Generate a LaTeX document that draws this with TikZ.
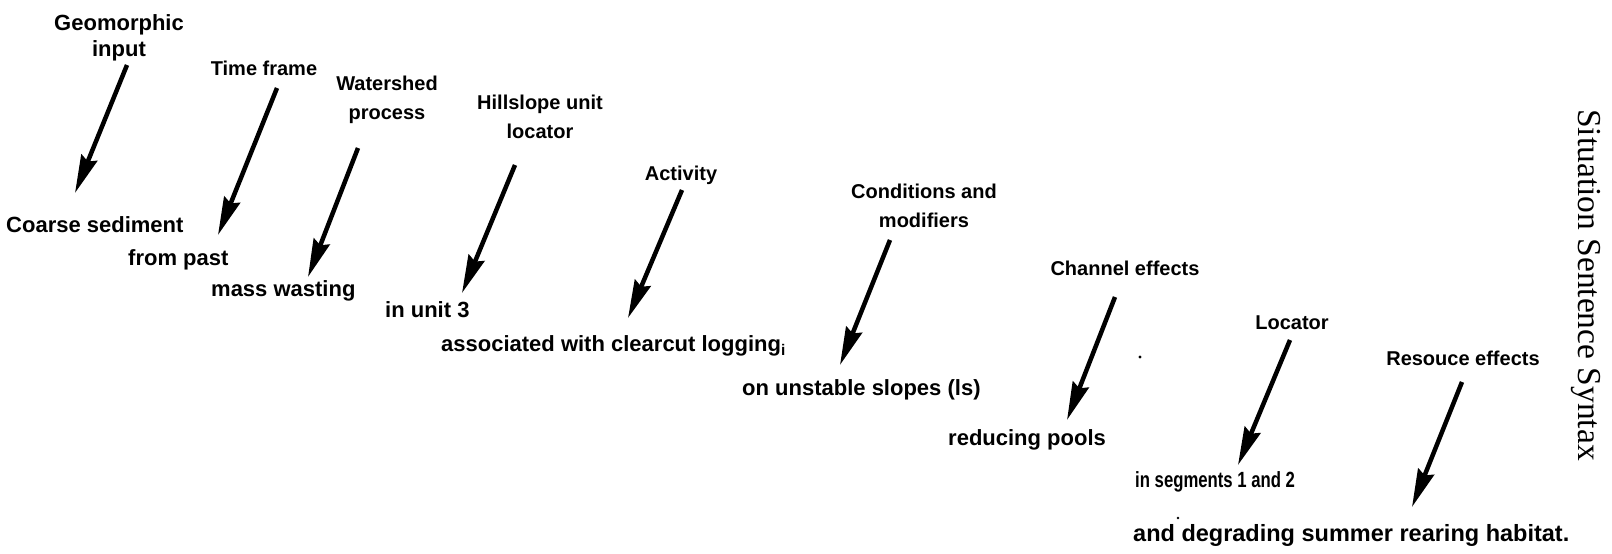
\documentclass[tikz,border=0pt]{standalone}
\usepackage{fontspec}
\setmainfont{Liberation Sans}
\newfontfamily\titlefont{Liberation Serif}
\usetikzlibrary{arrows.meta}
\begin{document}
\begin{tikzpicture}[x=1pt,y=-1pt,
  lab/.style={font=\fontsize{20}{29}\selectfont\bfseries, align=center, inner sep=0pt},
  phr/.style={font=\fontsize{22}{26}\selectfont\bfseries, anchor=west, inner sep=0pt},
  arr/.style={line width=4.5pt, -{Stealth[length=38pt,width=17pt,inset=4pt]}},
  speck/.style={fill=black, draw=none}]
\useasboundingbox (0,0) rectangle (1612,554);
% top labels
\node[lab, font=\fontsize{22}{26}\selectfont\bfseries] (geo) at (119,38) {Geomorphic\\input};
\node[lab] (time) at (264,68) {Time frame};
\node[lab] (water) at (387,100) {Watershed\\process};
\node[lab] (hill) at (540,117) {Hillslope unit\\locator};
\node[lab] (act) at (681,175) {Activity};
\node[lab] (cond) at (924,206) {Conditions and\\modifiers};
\node[lab] (chan) at (1125,268) {Channel effects};
\node[lab] (loc) at (1292,323) {Locator};
\node[lab] (res) at (1463,358) {Resouce effects};
% sentence phrases
\node[phr] (coarse) at (6,225) {Coarse sediment};
\node[phr] (from) at (128,260) {from past};
\node[phr] (mass) at (211,291) {mass wasting};
\node[phr] (unit) at (385,310) {in unit 3};
\node[phr] (assoc) at (441,346) {associated with clearcut logging\textsubscript{i}};
\node[phr] (unst) at (742,390) {on unstable slopes (ls)};
\node[phr] (red) at (948,440) {reducing pools};
\node[phr] (seg) at (1135,482) {\scalebox{0.76}[1]{in segments 1 and 2}};
\node[phr, font=\fontsize{23.5}{26}\selectfont\bfseries] (hab) at (1133,535) {and degrading summer rearing habitat.};
% title
\node[inner sep=0pt, rotate=-90, font=\titlefont\fontsize{33.5}{36}\selectfont] (title) at (1586,285) {Situation Sentence Syntax};
% arrow ends
\coordinate (t1) at (127,65);   \coordinate (h1) at (75,193);
\coordinate (t2) at (277,88);   \coordinate (h2) at (218,235);
\coordinate (t3) at (358,148);  \coordinate (h3) at (308,277);
\coordinate (t4) at (515,165);  \coordinate (h4) at (462,293);
\coordinate (t5) at (682,190);  \coordinate (h5) at (628,318);
\coordinate (t6) at (890,240);  \coordinate (h6) at (840,365);
\coordinate (t7) at (1115,297); \coordinate (h7) at (1067,420);
\coordinate (t8) at (1290,340); \coordinate (h8) at (1238,465);
\coordinate (t9) at (1462,382); \coordinate (h9) at (1412,507);
\foreach \i in {1,...,9} { \draw[arr] (t\i) -- (h\i); }
% specks
\fill[speck] (1140,357) circle (1.6);
\fill[speck] (1178,518) circle (1.4);
\end{tikzpicture}
\end{document}
